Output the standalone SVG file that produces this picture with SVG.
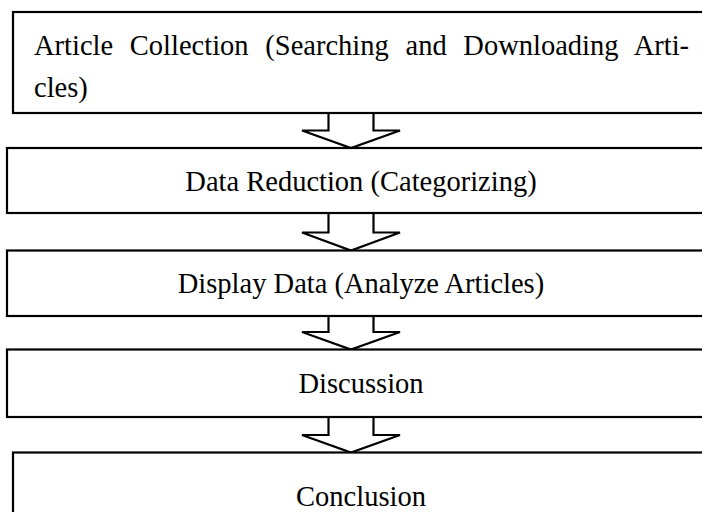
<svg xmlns="http://www.w3.org/2000/svg" width="702" height="512" viewBox="0 0 702 512">
<style>
.box{fill:#fff;stroke:#000;stroke-width:2.2}
.arr{fill:#fff;stroke:#000;stroke-width:2.2;stroke-linejoin:miter}
.t{font-family:"Liberation Serif","Times New Roman",serif;font-size:28.5px;fill:#000}
.c{text-anchor:middle}
</style>
<rect width="702" height="512" fill="#fff"/>
<g id="connectors">
<path class="arr" d="M328.5,113 V130.5 H302 L351,148 L400,130.5 H373.5 V113"/>
<path class="arr" d="M328.5,213 V232.5 H302 L351,250.5 L400,232.5 H373.5 V213"/>
<path class="arr" d="M328.5,316 V332 H302 L351,349.5 L400,332 H373.5 V316"/>
<path class="arr" d="M328.5,417 V435 H302 L351,452.5 L400,435 H373.5 V417"/>
</g>
<g id="n1">
<rect class="box" x="13" y="12" width="720" height="101"/>
<text class="t" x="34" y="55" word-spacing="9.6">Article Collection (Searching and Downloading Arti-</text>
<text class="t" x="34" y="97">cles)</text>
</g>
<g id="n2">
<rect class="box" x="7" y="148" width="720" height="65"/>
<text class="t c" x="361" y="190.5">Data Reduction (Categorizing)</text>
</g>
<g id="n3">
<rect class="box" x="7" y="250.5" width="720" height="65.5"/>
<text class="t c" x="361" y="293">Display Data (Analyze Articles)</text>
</g>
<g id="n4">
<rect class="box" x="7" y="349.5" width="720" height="67.5"/>
<text class="t c" x="361" y="393">Discussion</text>
</g>
<g id="n5">
<rect class="box" x="13" y="452.5" width="720" height="80"/>
<text class="t c" x="361" y="506">Conclusion</text>
</g>
</svg>
